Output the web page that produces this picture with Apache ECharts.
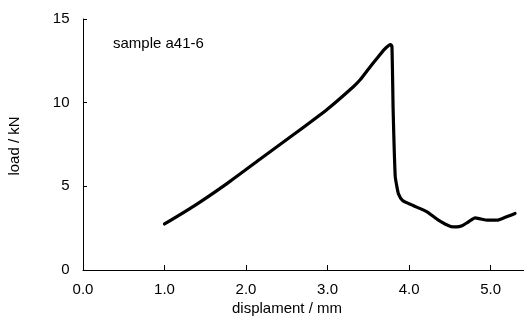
<!DOCTYPE html>
<html><head><meta charset="utf-8">
<script src="https://cdn.jsdelivr.net/npm/echarts@6/dist/echarts.min.js"></script>
<style>html,body{margin:0;padding:0;background:#fff}#c{width:524px;height:321px}</style>
</head><body><div id="c"></div>
<script>
const displacement = [1.0, 1.36, 1.77, 2.17, 2.58, 2.99, 3.32, 3.40, 3.50, 3.61, 3.70, 3.75, 3.775, 3.79, 3.805, 3.83, 3.85, 3.87, 3.92, 4.05, 4.22, 4.36, 4.51, 4.58, 4.65, 4.72, 4.81, 4.88, 4.96, 5.08, 5.18, 5.30];
const load = [2.75, 3.82, 5.18, 6.62, 8.08, 9.58, 10.97, 11.37, 12.0, 12.67, 13.2, 13.42, 13.47, 13.35, 9.5, 5.6, 5.0, 4.55, 4.15, 3.85, 3.48, 2.98, 2.6, 2.58, 2.65, 2.85, 3.12, 3.05, 2.98, 2.98, 3.15, 3.38];
const xTicks = [0, 1, 2, 3, 4, 5];
const yTicks = [0, 5, 10, 15];
const sampleLabel = 'sample a41-6';
const xTitle = 'displament / mm';
const yTitle = 'load / kN';

const font = 'Liberation Sans, Arial, sans-serif';
const chart = echarts.init(document.getElementById('c'), null, {renderer: 'canvas'});
chart.setOption({
  animation: false,
  backgroundColor: '#fff',
  grid: {left: 83, right: 0, top: 19, height: 251},
  xAxis: {
    type: 'value', min: 0, max: 5.41, interval: 1,
    axisLine: {lineStyle: {color: '#000', width: 1}},
    axisTick: {inside: true, length: 5, lineStyle: {color: '#000'}},
    splitLine: {show: false},
    axisLabel: {color: '#000', fontFamily: font, fontSize: 15, margin: 12, showMaxLabel: false,
      formatter: v => xTicks.includes(Math.round(v*100)/100) ? v.toFixed(1) : ''}
  },
  yAxis: {
    type: 'value', min: 0, max: 15, interval: 5, offset: 2.5,
    axisLine: {show: true, lineStyle: {color: '#000', width: 1}},
    axisTick: {show: true, inside: true, length: 4, lineStyle: {color: '#000'}},
    splitLine: {show: false},
    axisLabel: {color: '#000', fontFamily: font, fontSize: 15, margin: 11,
      formatter: v => yTicks.includes(v) ? String(v) : ''}
  },
  graphic: [
    {type: 'text', left: 113, top: 36, style: {text: sampleLabel, fill: '#000', font: '15px ' + font}},
    {type: 'text', left: 232, top: 301, style: {text: xTitle, fill: '#000', font: '15px ' + font}},
    {type: 'text', x: 15, y: 146, rotation: Math.PI/2, style: {text: yTitle, fill: '#000', font: '15px ' + font, align: 'center', verticalAlign: 'middle'}}
  ],
  series: [{
    type: 'line', data: displacement.map((x, i) => [x, load[i]]),
    showSymbol: false, smooth: 0.2,
    lineStyle: {color: '#000', width: 3.2, join: 'round', cap: 'round'}
  }]
});
</script></body></html>
